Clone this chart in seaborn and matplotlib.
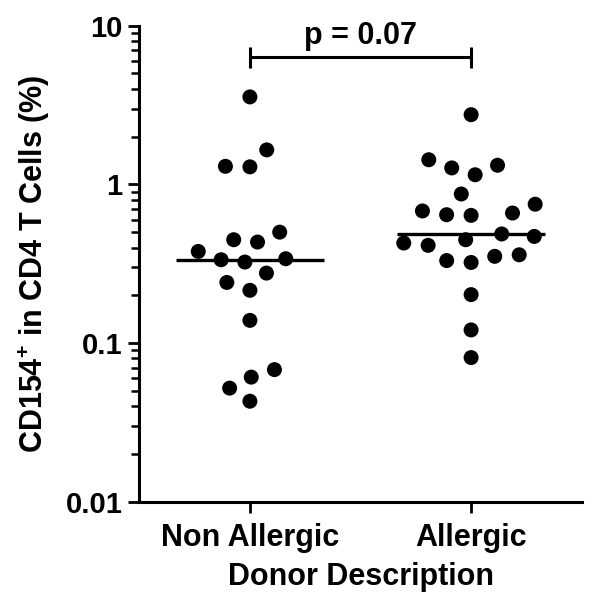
import matplotlib
matplotlib.use("Agg")
import matplotlib.pyplot as plt
from matplotlib.ticker import FuncFormatter, NullFormatter
import seaborn as sns
import pandas as pd

groups = ["Non Allergic", "Allergic"]
non_allergic = [3.56, 1.65, 1.30, 1.29, 0.50, 0.448, 0.433, 0.378, 0.340, 0.335,
                0.324, 0.276, 0.241, 0.215, 0.139, 0.068, 0.061, 0.052, 0.043]
allergic = [2.75, 1.43, 1.32, 1.27, 1.15, 0.87, 0.75, 0.68, 0.66, 0.644, 0.638,
            0.487, 0.47, 0.448, 0.427, 0.413, 0.36, 0.352, 0.331, 0.322, 0.202,
            0.121, 0.081]
p_label = "p = 0.07"

data = pd.DataFrame({
    "group": [groups[0]] * len(non_allergic) + [groups[1]] * len(allergic),
    "value": non_allergic + allergic,
})

sns.set_theme(style="ticks")
plt.rcParams["font.family"] = ["Liberation Sans", "DejaVu Sans"]
plt.rcParams["font.weight"] = "bold"
plt.rcParams["mathtext.fontset"] = "custom"
plt.rcParams["mathtext.rm"] = "Liberation Sans:bold"
plt.rcParams["mathtext.bf"] = "Liberation Sans:bold"
for key in ["text.color", "axes.labelcolor", "xtick.color", "ytick.color",
            "axes.edgecolor"]:
    plt.rcParams[key] = "black"

fig = plt.figure(figsize=(6, 5.97), dpi=100)
ax = fig.add_axes([0.2322, 0.1596, 0.7373, 0.7973])
ax.set_yscale("log")

# median line only
sns.boxplot(
    data=data, x="group", y="value", order=groups, width=0.67,
    showbox=False, showcaps=False, showfliers=False, whis=0,
    medianprops=dict(color="black", linewidth=2.4),
    whiskerprops=dict(visible=False),
    ax=ax,
)
# invisible edge widens the swarm spacing
sns.swarmplot(
    data=data, x="group", y="value", order=groups, color="black",
    size=10.8, edgecolor="none", linewidth=6, ax=ax,
)

ax.set_ylim(0.01, 10)
ax.set_xlim(-0.5, 1.5)
sns.despine(ax=ax)
for side in ["left", "bottom"]:
    ax.spines[side].set_linewidth(2.2)

ax.yaxis.set_major_formatter(FuncFormatter(lambda v, _: f"{v:g}"))
ax.yaxis.set_minor_formatter(NullFormatter())
ax.tick_params(axis="y", which="major", length=8, width=2, labelsize=21, pad=4)
ax.tick_params(axis="y", which="minor", length=5.5, width=1.8)
ax.tick_params(axis="x", length=8, width=2, labelsize=22, pad=7)

ax.set_xlabel("Donor Description", fontsize=22, fontweight="bold", labelpad=7)
ax.set_ylabel(r"CD154$^{+}$ in CD4 T Cells (%)", fontsize=22,
              fontweight="bold", labelpad=10)

# significance bracket
trans = ax.get_xaxis_transform()
ax.hlines(0.9336, 0, 1, color="black", lw=2.2, transform=trans)
ax.vlines([0, 1], 0.9105, 0.9559, color="black", lw=2.2, transform=trans)
ax.text(0.5, 0.978, p_label, transform=trans, ha="center", va="center",
        fontsize=22, fontweight="bold")

fig.savefig("out.png", dpi=100)
